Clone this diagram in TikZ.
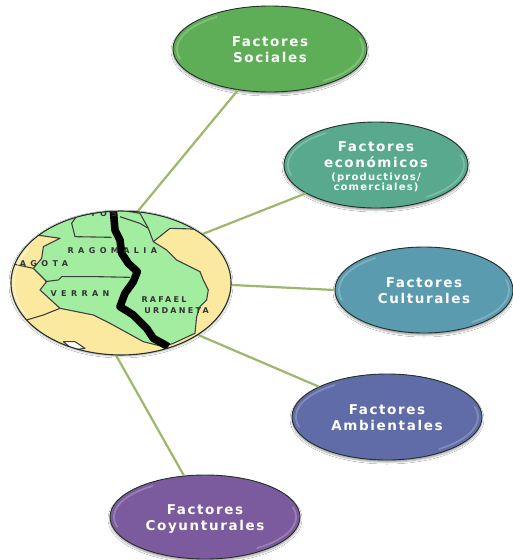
\documentclass[tikz,border=0pt]{standalone}
\usepackage{fontspec}
\setmainfont{DejaVu Sans}
\newfontfamily\wide[LetterSpace=12]{DejaVu Sans}
\newfontfamily\mapw[LetterSpace=55]{DejaVu Sans}
\newfontfamily\mapn[LetterSpace=28]{DejaVu Sans}
\usetikzlibrary{shapes.geometric,shadows.blur}
\definecolor{linkc}{HTML}{9DB86A}
\definecolor{rimc}{HTML}{25302A}
\definecolor{cSoc}{HTML}{5EAE57}
\definecolor{cEco}{HTML}{58A98D}
\definecolor{cCul}{HTML}{5A9BAF}
\definecolor{cAmb}{HTML}{5F6CA8}
\definecolor{cCoy}{HTML}{7C5A9E}
\definecolor{mapY}{HTML}{FBE9A0}
\definecolor{mapG}{HTML}{A2EDA0}
\newcommand{\low}[2]{\raisebox{-#1}[10pt][3pt]{#2}}
\newcommand{\gloss}[3]{%
  \draw[glossline] (#1.center) ++(125:#2 and #3) arc[start angle=125,end angle=195,x radius=#2,y radius=#3];
  \draw[glossline] (#1.center) ++(-55:#2 and #3) arc[start angle=-55,end angle=15,x radius=#2,y radius=#3];}
\tikzset{
  bubble/.style={ellipse,draw=rimc,line width=.9pt,inner sep=0pt,text=white,align=center,
    font=\wide\bfseries\fontsize{13.5}{16}\selectfont,
    blur shadow={shadow xshift=0pt,shadow yshift=-2pt,shadow blur radius=2pt,shadow opacity=40}},
  link/.style={draw=linkc,line width=2.2pt},
  glossline/.style={white,opacity=.22,line width=1.8pt,line cap=round},
  border/.style={draw=black!75,line width=1.1pt,line join=round},
  maptext/.style={font=\mapw\bfseries\fontsize{8}{9}\selectfont,text=black!80,inner sep=0pt},
  maptextn/.style={font=\mapn\bfseries\fontsize{8}{9}\selectfont,text=black!80,inner sep=0pt}
}
\begin{document}
\begin{tikzpicture}[x=1pt,y=-1pt]
\useasboundingbox[fill=white] (0,0) rectangle (512,560);
\node[bubble,fill=cSoc,minimum width=194pt,minimum height=86pt] (soc) at (270,49) {\low{2pt}{Factores}\\\low{2pt}{Sociales}};
\node[bubble,fill=cEco,minimum width=184pt,minimum height=86pt] (eco) at (376,165)
  {\low{3pt}{Factores}\\\low{3pt}{económicos}\\[-5pt]\fontsize{10}{10}\selectfont \low{5pt}{(productivos/}\\[-3pt]\fontsize{10}{10}\selectfont \low{2pt}{comerciales)}};
\node[bubble,fill=cCul,minimum width=178pt,minimum height=86pt] (cul) at (424,290) {\low{2pt}{Factores}\\\low{2pt}{Culturales}};
\node[bubble,fill=cAmb,minimum width=190pt,minimum height=86pt] (amb) at (387,417) {\low{2pt}{Factores}\\\low{2pt}{Ambientales}};
\node[bubble,fill=cCoy,minimum width=190pt,minimum height=84pt] (coy) at (205,517) {\low{2pt}{Factores}\\\low{2pt}{Coyunturales}};
\gloss{soc}{93pt}{39pt}
\gloss{eco}{88pt}{39pt}
\gloss{cul}{85pt}{39pt}
\gloss{amb}{91pt}{39pt}
\gloss{coy}{91pt}{38pt}
\node[ellipse,minimum width=220pt,minimum height=144pt,inner sep=0pt,fill=mapY,
  blur shadow={shadow xshift=0pt,shadow yshift=-1pt,shadow blur radius=2pt,shadow opacity=35}] (map) at (121,283) {};
\draw[link] (soc.232.5) -- (map.77.5);
\draw[link] (eco.202.2) -- (map.31.3);
\draw[link] (cul.180.6) -- (map.359);
\draw[link] (amb.156.4) -- (map.-34.4);
\draw[link] (coy.117.6) -- (map.266.8);
\begin{scope}
\clip (map.center) ellipse[x radius=110pt,y radius=72pt];
\begin{scope}[shift={(0,200)},x=0.3333pt,y=-0.3333pt]
\fill[mapG] (230,48) -- (350,28) -- (420,40) -- (445,85) -- (460,125) -- (510,85) -- (610,85) -- (610,60) -- (420,10) -- (230,10) -- cycle;
\draw[border,fill=mapG] (460,125) -- (500,150) -- (530,180) -- (600,215) -- (610,240) -- (625,270) -- (620,300) -- (600,320) -- (590,350) -- (585,400) -- (520,430) -- (490,440) -- (430,425) -- (330,370) -- (280,345) -- (180,325) -- (120,270) -- (140,245) -- (100,205) -- (125,175) -- (130,140) -- (180,115) -- (110,105) -- (170,70) -- (230,48) -- (350,28) -- (420,40) -- (445,85) -- cycle;
\draw[border] (460,125) -- (510,85) -- (610,88);
\draw[border] (230,48) -- (215,70) -- (225,110) -- (335,112);
\draw[border] (360,50) -- (420,70) -- (445,85);
\draw[border] (135,245) -- (175,240) -- (185,230) -- (290,230) -- (390,232);
\draw[border] (80,360) -- (130,345) -- (180,325);
\draw[border] (30,190) -- (100,205);
\draw[border,fill=white] (190,425) -- (225,425) -- (255,445) -- (220,450) -- cycle;
\draw[black,line width=7.6pt,line join=round] (340,30) -- (345,90) -- (360,120) -- (365,160) -- (385,190) -- (412,215) -- (400,245) -- (375,280) -- (360,320) -- (400,345) -- (440,385) -- (460,415) -- (505,440);
\node[maptext] (t1) at (337,153) {RAGOMALIA};
\node[maptext] (t2) at (132,190) {AGOTA};
\node[maptext] (t3) at (240,281) {VERRAN};
\node[maptextn] (t4) at (492,300) {RAFAEL};
\node[maptextn] (t5) at (530,333) {URDANETA};
\node[maptext] (t6) at (300,42) {ITOS};
\end{scope}
\end{scope}
\draw[rimc,line width=1.1pt] (map.center) ellipse[x radius=110pt,y radius=72pt];
\draw[white,opacity=.5,line width=1.4pt,line cap=round] (map.center) ++(150:107pt and 69pt) arc[start angle=150,end angle=208,x radius=107pt,y radius=69pt];
\end{tikzpicture}
\end{document}
